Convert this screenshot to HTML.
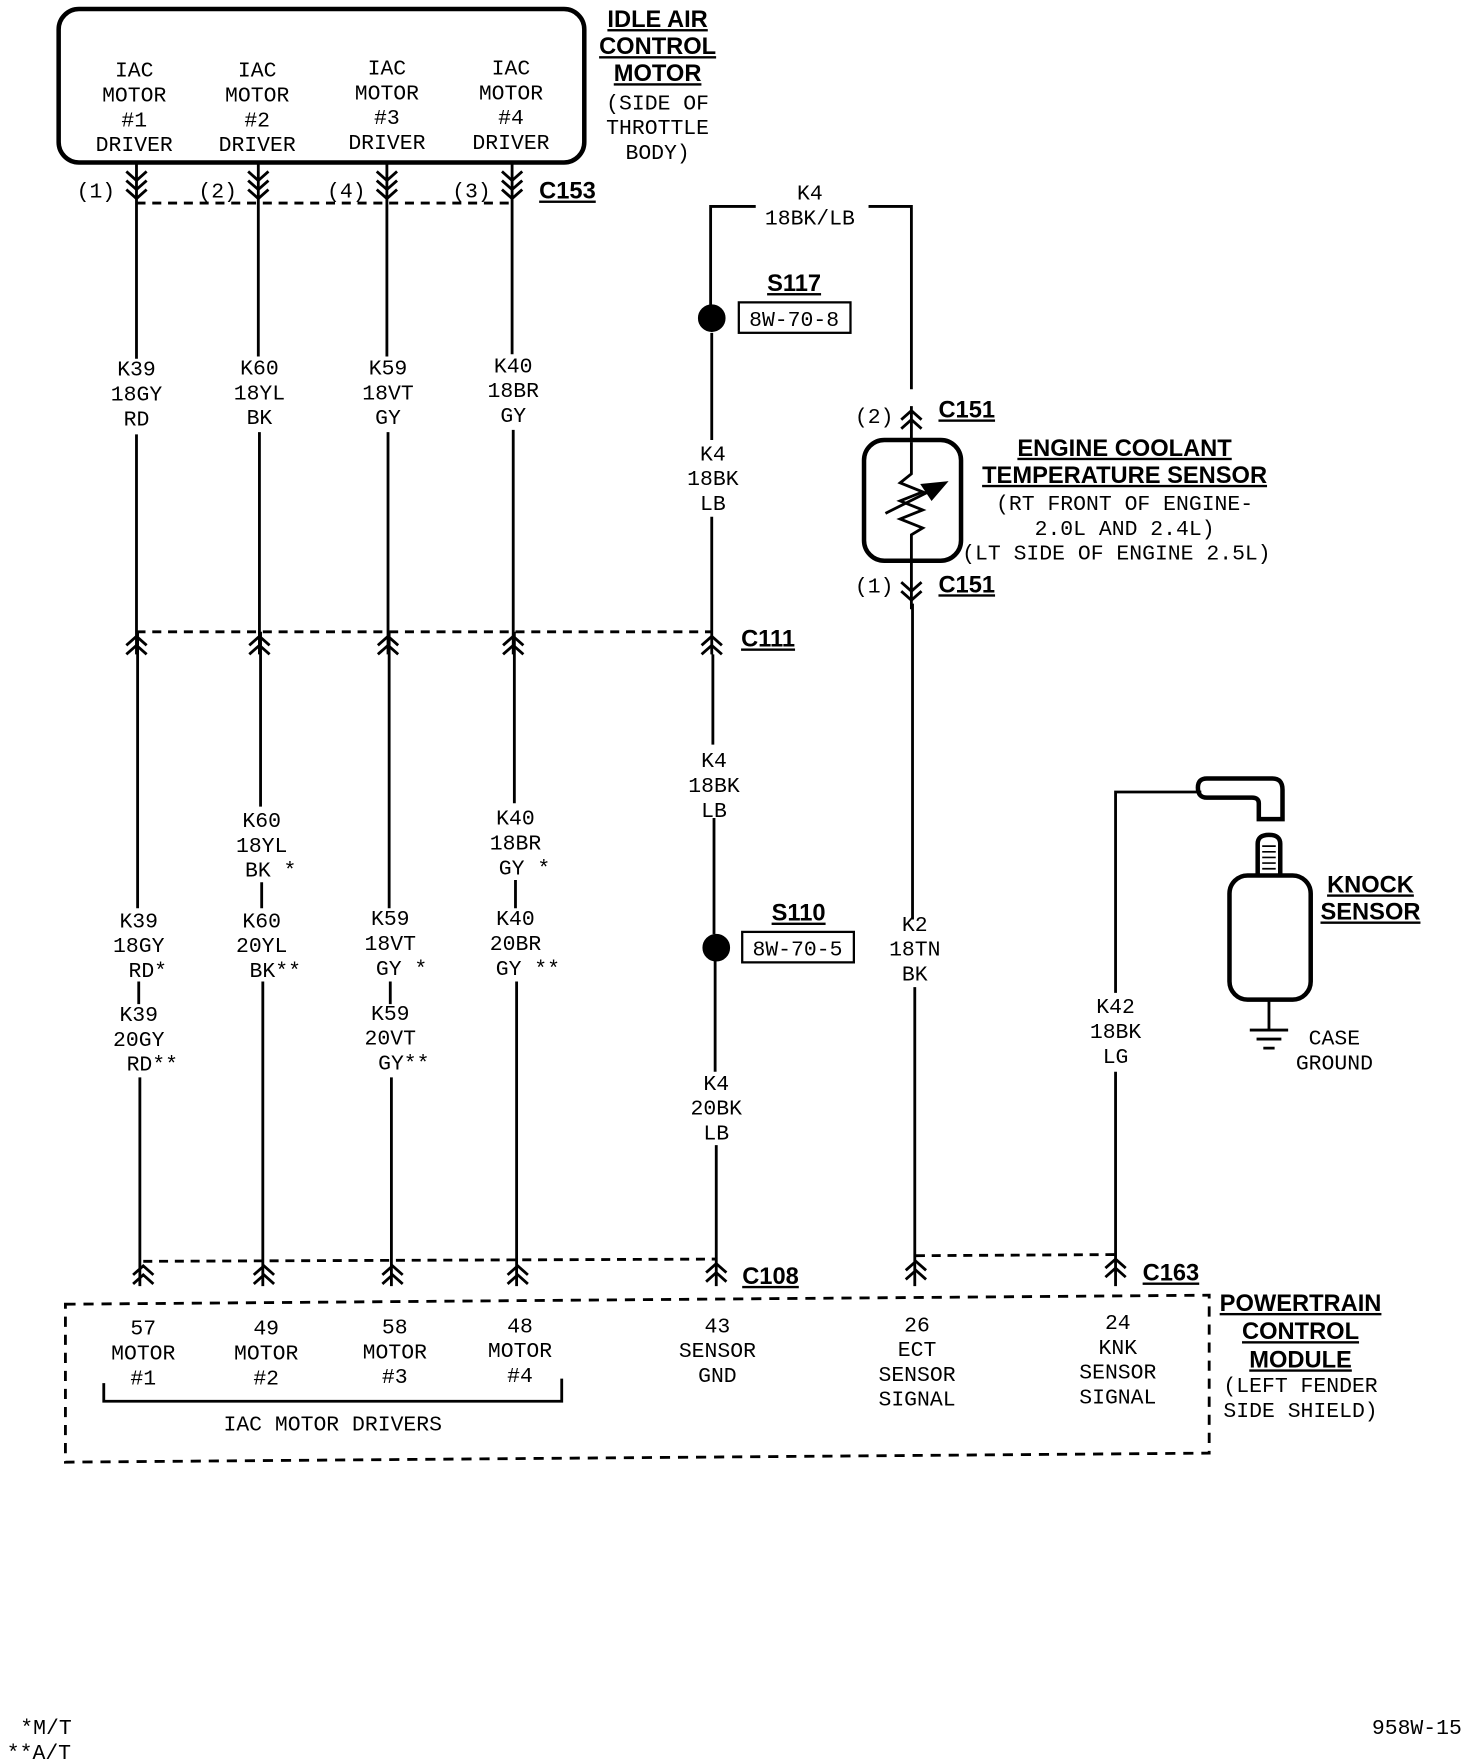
<!DOCTYPE html>
<html><head><meta charset="utf-8"><style>
html,body{margin:0;padding:0;background:#fff;}
svg{display:block;}
text{font-family:"Liberation Mono",monospace;font-size:19px;fill:#000;text-anchor:middle;}
.t{font-family:"Liberation Sans",sans-serif;font-weight:bold;font-size:21px;text-decoration:underline;}
.l{text-anchor:start;}
.e{text-anchor:end;}
</style></head><body>
<svg width="1472" height="1760" viewBox="0 0 1305 1560" preserveAspectRatio="none" xmlns="http://www.w3.org/2000/svg">
<g stroke="#000" stroke-width="2.5" fill="none">
<!-- top box -->
<rect x="52" y="8" width="466" height="136" rx="18" stroke-width="4"/>
<!-- C153 down chevrons -->
<path d="M112,152 L121,160 L130,152 M112,160 L121,168 L130,160 M112,168 L121,176 L130,168
M220,152 L229,160 L238,152 M220,160 L229,168 L238,160 M220,168 L229,176 L238,168
M334,152 L343,160 L352,152 M334,160 L343,168 L352,160 M334,168 L343,176 L352,168
M445,152 L454,160 L463,152 M445,160 L454,168 L463,160 M445,168 L454,176 L463,168"/>
<line x1="121" y1="180" x2="454" y2="180" stroke-dasharray="8,6"/>
<!-- upper wires -->
<path d="M121,144 V318 M121,385 V580 M229,144 V316 M230,383 V580 M343,144 V316 M344,383 V580 M454,144 V314 M455,381 V580"/>
<!-- C111 -->
<line x1="121" y1="560" x2="631" y2="560" stroke-dasharray="8,6"/>
<path d="M112,572 L121,564 L130,572 M112,580 L121,572 L130,580
M221,572 L230,564 L239,572 M221,580 L230,572 L239,580
M335,572 L344,564 L353,572 M335,580 L344,572 L353,580
M446,572 L455,564 L464,572 M446,580 L455,572 L464,580
M622,572 L631,564 L640,572 M622,580 L631,572 L640,580"/>
<!-- lower wires -->
<path d="M122,560 V805 M123,870 V890 M124,955 V1140
M231,560 V715 M232,782 V805 M233,870 V1140
M345,560 V805 M346,870 V890 M347,955 V1140
M456,560 V712 M457,780 V805 M458,870 V1140"/>
<!-- C108 -->
<line x1="127" y1="1118" x2="635" y2="1116" stroke-dasharray="8,6"/>
<path d="M118,1130 L127,1122 L136,1130 M118,1138 L127,1130 L136,1138
M225,1130 L234,1122 L243,1130 M225,1138 L234,1130 L243,1138
M339,1130 L348,1122 L357,1130 M339,1138 L348,1130 L357,1138
M450,1130 L459,1122 L468,1130 M450,1138 L459,1130 L468,1138
M626,1128 L635,1120 L644,1128 M626,1136 L635,1128 L644,1136"/>
<!-- PCM box -->
<path d="M58,1156 L1072,1148 L1072,1288 L58,1296 Z" stroke-dasharray="9,7"/>
<path d="M92,1226 V1242 H498 V1222"/>
<!-- K4 -->
<path d="M630,290 V183 H670 M770,183 H808 V345 M631,295 V390 M631,458 V580 M632,580 V660 M633,725 V828 M634,850 V950 M635,1015 V1140"/>
<circle cx="631" cy="282" r="11" fill="#000"/>
<circle cx="635" cy="840" r="11" fill="#000"/>
<rect x="655" y="268" width="99" height="27" stroke-width="2"/>
<rect x="658" y="826" width="99" height="27" stroke-width="2"/>
<!-- ECT -->
<path d="M799,372 L808,364 L817,372 M799,380 L808,372 L817,380 M808,360 V392"/>
<rect x="766" y="390" width="86" height="107" rx="18" stroke-width="4"/>
<path d="M808,392 V420 L798,428 L818,436 L798,444 L818,452 L798,460 L818,468 L808,474 V540"/>
<path d="M785,455 L835,430" stroke-width="2.5"/>
<path d="M838,428 L818,430 L826,442 Z" fill="#000"/>
<path d="M799,516 L808,524 L817,516 M799,524 L808,532 L817,524"/>
<path d="M809,535 V815 M811,875 V1140"/>
<!-- C163 -->
<line x1="812" y1="1113" x2="989" y2="1112" stroke-dasharray="8,6"/>
<path d="M803,1126 L812,1118 L821,1126 M803,1134 L812,1126 L821,1134
M980,1124 L989,1116 L998,1124 M980,1132 L989,1124 L998,1132"/>
<!-- knock -->
<path d="M989,1140 V950 M989,880 V702 H1065"/>
<path d="M1070,690 H1128 Q1137,690 1137,700 V726 H1116 V712 Q1116,707 1110,707 H1070 Q1062,707 1062,698 Q1062,690 1070,690 Z" stroke-width="4"/>
<path d="M1115,776 V748 Q1115,740 1125,740 Q1135,740 1135,748 V776" stroke-width="4"/>
<path d="M1119,750 H1131 M1119,755 H1131 M1119,760 H1131 M1119,765 H1131 M1119,770 H1131" stroke-width="1.5"/>
<rect x="1090" y="776" width="72" height="110" rx="16" stroke-width="4"/>
<path d="M1125,886 V912 M1108,913 H1142 M1114,921 H1136 M1120,929 H1130"/>
</g>
<!-- texts -->
<g>
<text x="119" y="68">IAC</text><text x="119" y="90">MOTOR</text><text x="119" y="112">#1</text><text x="119" y="134">DRIVER</text>
<text x="228" y="68">IAC</text><text x="228" y="90">MOTOR</text><text x="228" y="112">#2</text><text x="228" y="134">DRIVER</text>
<text x="343" y="66">IAC</text><text x="343" y="88">MOTOR</text><text x="343" y="110">#3</text><text x="343" y="132">DRIVER</text>
<text x="453" y="66">IAC</text><text x="453" y="88">MOTOR</text><text x="453" y="110">#4</text><text x="453" y="132">DRIVER</text>
<text class="t" x="583" y="24">IDLE AIR</text><text class="t" x="583" y="48">CONTROL</text><text class="t" x="583" y="72">MOTOR</text>
<text x="583" y="97">(SIDE OF</text><text x="583" y="119">THROTTLE</text><text x="583" y="141">BODY)</text>
<text x="85" y="175">(1)</text><text x="193" y="175">(2)</text><text x="307" y="175">(4)</text><text x="418" y="175">(3)</text>
<text class="t l" x="478" y="176">C153</text>
<text x="121" y="333">K39</text><text x="121" y="355">18GY</text><text x="121" y="377">RD</text>
<text x="230" y="332">K60</text><text x="230" y="354">18YL</text><text x="230" y="376">BK</text>
<text x="344" y="332">K59</text><text x="344" y="354">18VT</text><text x="344" y="376">GY</text>
<text x="455" y="330">K40</text><text x="455" y="352">18BR</text><text x="455" y="374">GY</text>
<text class="t l" x="657" y="573">C111</text>
<text x="232" y="733">K60</text><text x="232" y="755">18YL</text><text x="240" y="777">BK *</text>
<text x="457" y="731">K40</text><text x="457" y="753">18BR</text><text x="465" y="775">GY *</text>
<text x="123" y="822">K39</text><text x="123" y="844">18GY</text><text x="131" y="866">RD*</text>
<text x="123" y="905">K39</text><text x="123" y="927">20GY</text><text x="135" y="949">RD**</text>
<text x="232" y="822">K60</text><text x="232" y="844">20YL</text><text x="244" y="866">BK**</text>
<text x="346" y="820">K59</text><text x="346" y="842">18VT</text><text x="356" y="864">GY *</text>
<text x="346" y="904">K59</text><text x="346" y="926">20VT</text><text x="358" y="948">GY**</text>
<text x="457" y="820">K40</text><text x="457" y="842">20BR</text><text x="468" y="864">GY **</text>
<text x="718" y="177">K4</text><text x="718" y="199">18BK/LB</text>
<text class="t" x="704" y="258">S117</text><text x="704" y="289">8W-70-8</text>
<text x="632" y="408">K4</text><text x="632" y="430">18BK</text><text x="632" y="452">LB</text>
<text x="633" y="680">K4</text><text x="633" y="702">18BK</text><text x="633" y="724">LB</text>
<text class="t" x="708" y="816">S110</text><text x="707" y="847">8W-70-5</text>
<text x="635" y="966">K4</text><text x="635" y="988">20BK</text><text x="635" y="1010">LB</text>
<text class="t l" x="658" y="1138">C108</text>
<text x="775" y="375">(2)</text><text class="t l" x="832" y="370">C151</text>
<text x="775" y="525">(1)</text><text class="t l" x="832" y="525">C151</text>
<text class="t" x="997" y="404">ENGINE COOLANT</text><text class="t" x="997" y="428">TEMPERATURE SENSOR</text>
<text x="997" y="452">(RT FRONT OF ENGINE-</text><text x="997" y="474">2.0L AND 2.4L)</text>
<text class="l" x="853" y="496">(LT SIDE OF ENGINE 2.5L)</text>
<text x="811" y="825">K2</text><text x="811" y="847">18TN</text><text x="811" y="869">BK</text>
<text x="989" y="898">K42</text><text x="989" y="920">18BK</text><text x="989" y="942">LG</text>
<text class="t" x="1215" y="791">KNOCK</text><text class="t" x="1215" y="815">SENSOR</text>
<text x="1183" y="926">CASE</text><text x="1183" y="948">GROUND</text>
<text class="t l" x="1013" y="1135">C163</text>
<text x="127" y="1183">57</text><text x="127" y="1205">MOTOR</text><text x="127" y="1227">#1</text>
<text x="236" y="1183">49</text><text x="236" y="1205">MOTOR</text><text x="236" y="1227">#2</text>
<text x="350" y="1182">58</text><text x="350" y="1204">MOTOR</text><text x="350" y="1226">#3</text>
<text x="461" y="1181">48</text><text x="461" y="1203">MOTOR</text><text x="461" y="1225">#4</text>
<text x="295" y="1268">IAC MOTOR DRIVERS</text>
<text x="636" y="1181">43</text><text x="636" y="1203">SENSOR</text><text x="636" y="1225">GND</text>
<text x="813" y="1180">26</text><text x="813" y="1202">ECT</text><text x="813" y="1224">SENSOR</text><text x="813" y="1246">SIGNAL</text>
<text x="991" y="1178">24</text><text x="991" y="1200">KNK</text><text x="991" y="1222">SENSOR</text><text x="991" y="1244">SIGNAL</text>
<text class="t" x="1153" y="1162">POWERTRAIN</text><text class="t" x="1153" y="1187">CONTROL</text><text class="t" x="1153" y="1212">MODULE</text>
<text x="1153" y="1234">(LEFT FENDER</text><text x="1153" y="1256">SIDE SHIELD)</text>
<text class="l" x="18" y="1537">*M/T</text><text class="l" x="6" y="1559">**A/T</text>
<text class="e" x="1296" y="1537">958W-15</text>
</g>
</svg>
</body></html>
